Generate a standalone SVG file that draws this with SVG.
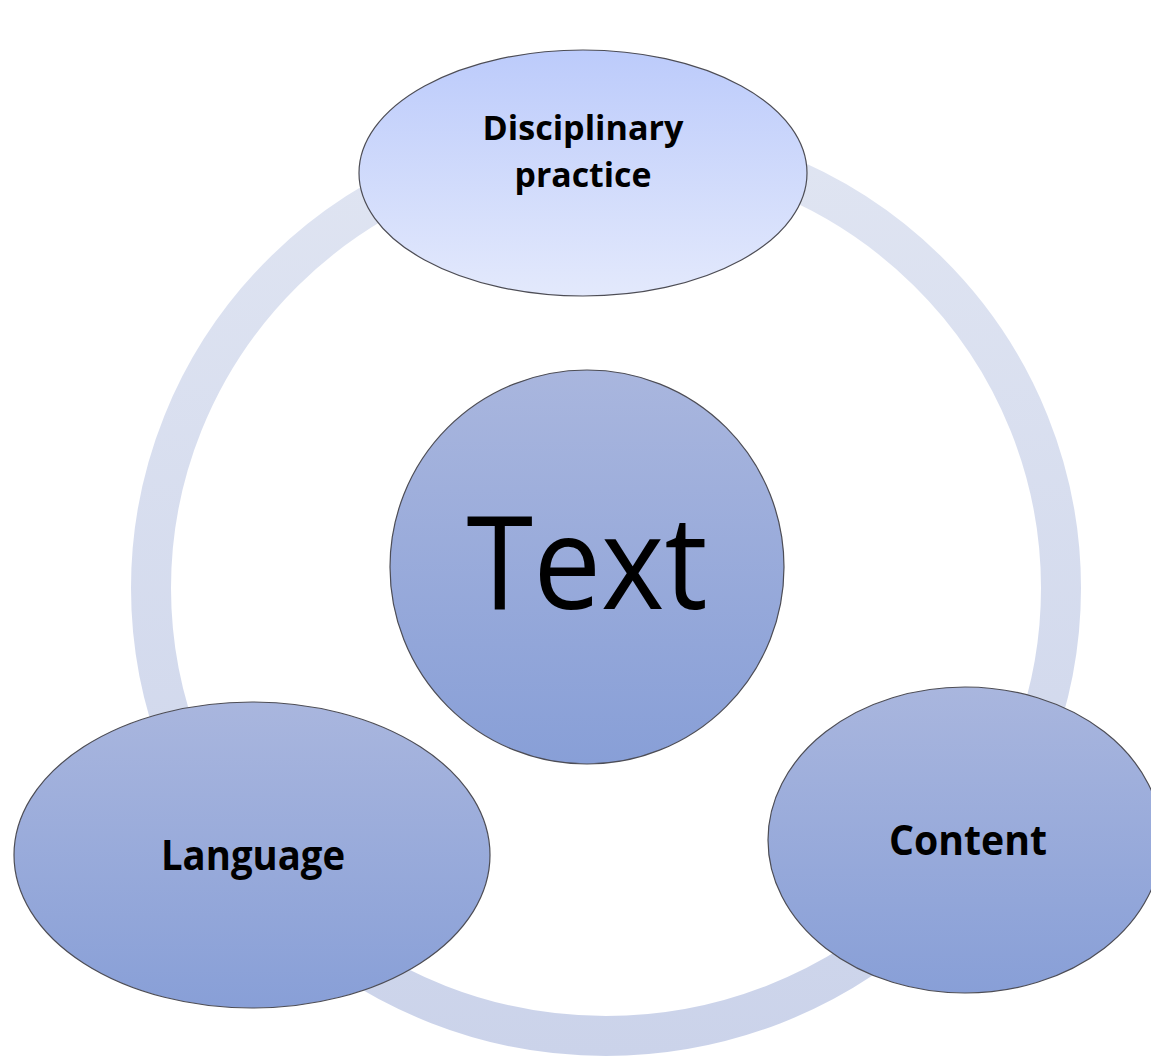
<svg xmlns="http://www.w3.org/2000/svg" width="1151" height="1056" viewBox="0 0 1151 1056">
  <defs>
    <linearGradient id="ringGrad" gradientUnits="userSpaceOnUse" x1="0" y1="120" x2="0" y2="1056">
      <stop offset="0" stop-color="#e0e5f2"/>
      <stop offset="1" stop-color="#cbd3ea"/>
    </linearGradient>
    <linearGradient id="topGrad" x1="0" y1="0" x2="0" y2="1">
      <stop offset="0" stop-color="#bccbfb"/>
      <stop offset="1" stop-color="#e3e9fc"/>
    </linearGradient>
    <linearGradient id="nodeGrad" x1="0" y1="0" x2="0" y2="1">
      <stop offset="0" stop-color="#a9b6de"/>
      <stop offset="1" stop-color="#889fd7"/>
    </linearGradient>
    <style>
      .shape { stroke: #4d4d55; stroke-width: 1.2; }
      .lbl { font-family: "Open Sans", "Liberation Sans", sans-serif; font-weight: bold; fill: #000; text-anchor: middle; }
      .big { font-family: "Open Sans", "Liberation Sans", sans-serif; font-weight: normal; fill: #000; text-anchor: middle; }
    </style>
  </defs>
  <rect width="1151" height="1056" fill="#ffffff"/>
  <g id="connectors">
    <ellipse cx="606" cy="588" rx="455" ry="448" fill="none" stroke="url(#ringGrad)" stroke-width="40"/>
  </g>
  <g id="node-text">
    <circle class="shape" cx="587" cy="567" r="197" fill="url(#nodeGrad)"/>
    <text class="big" x="587" y="609" font-size="130" textLength="241" lengthAdjust="spacingAndGlyphs">Text</text>
  </g>
  <g id="node-disciplinary">
    <ellipse class="shape" cx="583" cy="173" rx="224" ry="123" fill="url(#topGrad)"/>
    <text class="lbl" x="583" y="140" font-size="34" textLength="201" lengthAdjust="spacingAndGlyphs">Disciplinary</text>
    <text class="lbl" x="583" y="187" font-size="34" textLength="137" lengthAdjust="spacingAndGlyphs">practice</text>
  </g>
  <g id="node-language">
    <ellipse class="shape" cx="252" cy="855" rx="238" ry="153" fill="url(#nodeGrad)"/>
    <text class="lbl" x="253" y="870" font-size="41" textLength="184" lengthAdjust="spacingAndGlyphs">Language</text>
  </g>
  <g id="node-content">
    <ellipse class="shape" cx="965" cy="840" rx="197" ry="153" fill="url(#nodeGrad)"/>
    <text class="lbl" x="968" y="855" font-size="41" textLength="158" lengthAdjust="spacingAndGlyphs">Content</text>
  </g>
</svg>
